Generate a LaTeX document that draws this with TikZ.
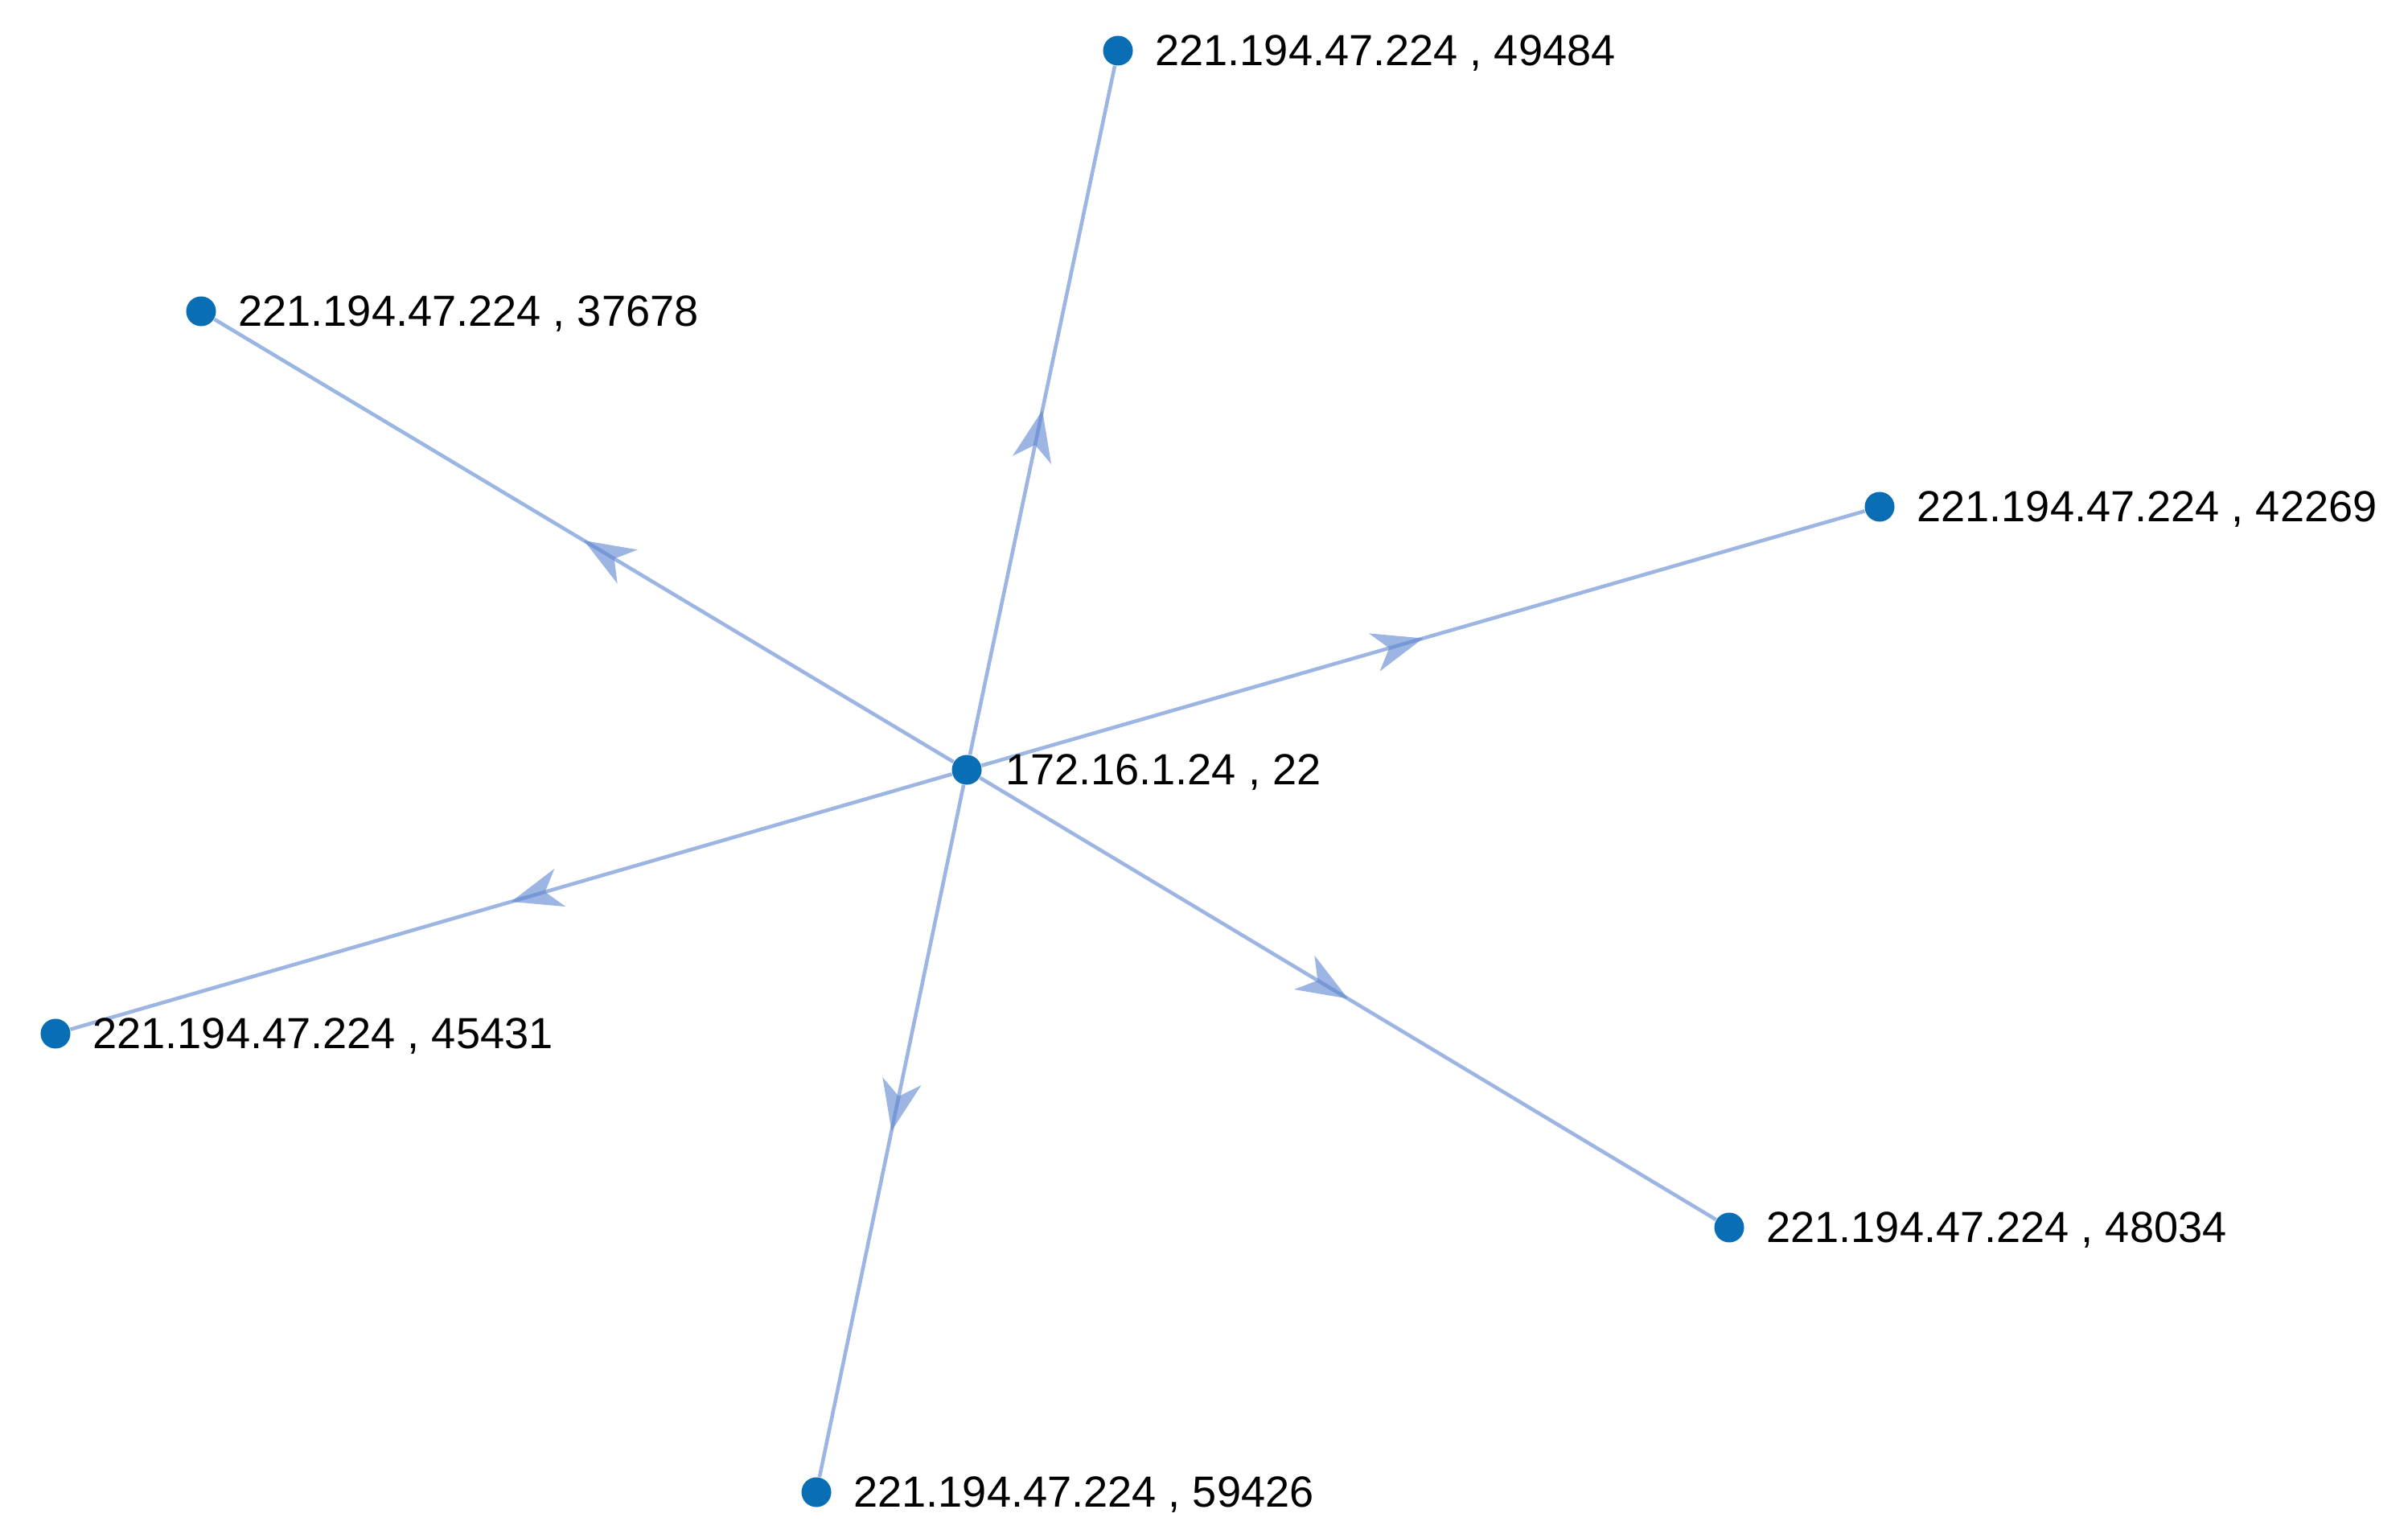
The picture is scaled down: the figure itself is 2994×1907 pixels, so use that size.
\documentclass[tikz,border=0pt]{standalone}
\usepackage{fontspec}
\setmainfont{Liberation Sans}
\usetikzlibrary{arrows.meta,decorations.markings,positioning,backgrounds}
\definecolor{hostblue}{RGB}{10,110,180}
\definecolor{flowblue}{RGB}{95,135,208}
\tikzset{
  host/.style={
    shape = circle,
    fill = hostblue,
    inner sep = 0pt,
    minimum size = 0.37cm
  },
  addr/.style={
    font = \fontsize{15.4}{18}\selectfont,
    inner sep = 0pt,
    text height = 0.716em,
    text depth = 0pt,
    yshift = -0.06cm
  },
  flow/.style={
    draw = flowblue,
    draw opacity = 0.62,
    line width = 1.3pt,
    decoration = {markings, mark = at position 0.5 with {\pgfsetfillopacity{0.62}\pgfsetstrokeopacity{0.62}\arrow{Stealth[length=18pt, width=14pt, inset=5.5pt, line width=0pt]}}},
    postaction = {decorate}
  }
}

\begin{document}
\begin{tikzpicture}[x=0.01cm, y=-0.01cm]
    \useasboundingbox (0,0) rectangle (2994,1907);
    \node[host] (srv) at (1202,957) {};
    \node[host] (top) at (1390,63) {};
    \node[host] (ul) at (250,387) {};
    \node[host] (rt) at (2337,630) {};
    \node[host] (lt) at (69,1285) {};
    \node[host] (lr) at (2150,1526) {};
    \node[host] (bot) at (1015,1855) {};
    \node[addr, right=0.29cm of srv] (srv-lbl) {172.16.1.24 , 22};
    \node[addr, right=0.265cm of top] (top-lbl) {221.194.47.224 , 49484};
    \node[addr, right=0.265cm of ul] (ul-lbl) {221.194.47.224 , 37678};
    \node[addr, right=0.265cm of rt] (rt-lbl) {221.194.47.224 , 42269};
    \node[addr, right=0.265cm of lt] (lt-lbl) {221.194.47.224 , 45431};
    \node[addr, right=0.265cm of lr] (lr-lbl) {221.194.47.224 , 48034};
    \node[addr, right=0.265cm of bot] (bot-lbl) {221.194.47.224 , 59426};
    \begin{scope}[on background layer]
    \foreach \p in {top,ul,rt,lt,lr,bot}
        \draw[flow] (srv) -- (\p);
    \end{scope}
\end{tikzpicture}
\end{document}
